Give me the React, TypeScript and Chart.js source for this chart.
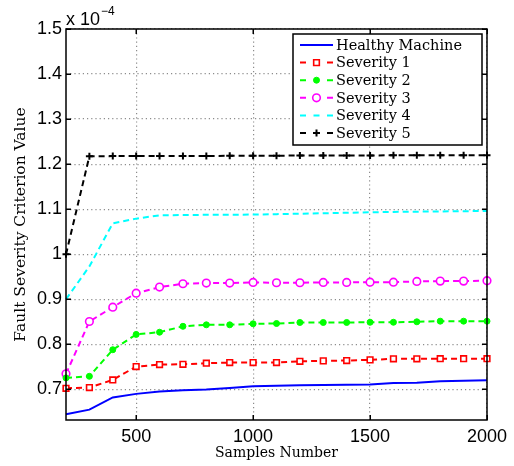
import React, { useEffect, useRef } from 'react';
import { Chart, registerables } from 'chart.js';

Chart.register(...registerables);

const samples = [200, 300, 400, 500, 600, 700, 800, 900, 1000, 1100, 1200, 1300, 1400, 1500, 1600, 1700, 1800, 1900, 2000];
const healthy = [0.645, 0.655, 0.682, 0.69, 0.695, 0.698, 0.6995, 0.703, 0.707, 0.708, 0.709, 0.7095, 0.71, 0.711, 0.714, 0.7145, 0.718, 0.719, 0.72];
const severity1 = [0.7024, 0.704, 0.721, 0.7506, 0.755, 0.7557, 0.758, 0.7595, 0.7595, 0.7595, 0.7624, 0.7633, 0.764, 0.7655, 0.7678, 0.7678, 0.768, 0.768, 0.768];
const severity2 = [0.7255, 0.729, 0.788, 0.822, 0.8269, 0.84, 0.8433, 0.8433, 0.8456, 0.8462, 0.8485, 0.8485, 0.8485, 0.849, 0.849, 0.85, 0.8514, 0.8514, 0.8514];
const severity3 = [0.7344, 0.8507, 0.8825, 0.9136, 0.927, 0.9345, 0.9359, 0.936, 0.9374, 0.9367, 0.9367, 0.9374, 0.9374, 0.938, 0.938, 0.9396, 0.9403, 0.9403, 0.9412];
const severity4 = [0.9, 0.973, 1.0686, 1.079, 1.0864, 1.087, 1.0875, 1.0878, 1.088, 1.089, 1.09, 1.091, 1.092, 1.093, 1.094, 1.0945, 1.095, 1.0955, 1.096];
const severity5 = [1.0, 1.2176, 1.2178, 1.218, 1.218, 1.218, 1.2182, 1.2184, 1.2186, 1.2188, 1.219, 1.219, 1.2192, 1.2194, 1.2195, 1.2196, 1.2197, 1.2198, 1.2198];

const seriesLabels = ['Healthy Machine', 'Severity 1', 'Severity 2', 'Severity 3', 'Severity 4', 'Severity 5'];
const yTicks = [0.7, 0.8, 0.9, 1, 1.1, 1.2, 1.3, 1.4, 1.5];
const xTicks = [500, 1000, 1500, 2000];
const xTitle = 'Samples Number';
const yTitle = 'Fault Severity Criterion Value';
const exponentBase = 'x 10';
const exponentPower = '\u22124';

const SANS = '"Liberation Sans", Arial, sans-serif';
const SERIF = '"DejaVu Serif", serif';

function drawMarker(ctx: CanvasRenderingContext2D, ds: any, x: number, y: number) {
  const style = ds.pointStyle;
  const r = ds.pointRadius;
  if (!r) return;
  ctx.save();
  ctx.lineWidth = ds.pointBorderWidth || 1;
  ctx.strokeStyle = ds.pointBorderColor;
  ctx.fillStyle = ds.pointBackgroundColor;
  ctx.setLineDash([]);
  ctx.beginPath();
  if (style === 'rect') {
    const s = Math.SQRT1_2 * r;
    ctx.rect(x - s, y - s, 2 * s, 2 * s);
    ctx.fill();
    ctx.stroke();
  } else if (style === 'circle') {
    ctx.arc(x, y, r, 0, Math.PI * 2);
    ctx.fill();
    ctx.stroke();
  } else if (style === 'cross') {
    ctx.moveTo(x - r, y);
    ctx.lineTo(x + r, y);
    ctx.moveTo(x, y - r);
    ctx.lineTo(x, y + r);
    ctx.stroke();
  }
  ctx.restore();
}

const framePlugin = {
  id: 'frame',
  afterDatasetsDraw(chart: any) {
    const ctx = chart.ctx;
    const a = chart.chartArea;
    ctx.save();
    ctx.strokeStyle = '#000';
    ctx.lineWidth = 1.5;
    ctx.setLineDash([]);
    ctx.strokeRect(a.left, a.top, a.right - a.left, a.bottom - a.top);
    ctx.fillStyle = '#000';
    chart.scales.y.ticks.forEach((t: any) => {
      const y = Math.round(chart.scales.y.getPixelForValue(t.value));
      ctx.fillRect(a.left, y - 0.5, 5, 1.5);
      ctx.fillRect(a.right - 5, y - 0.5, 5, 1.5);
    });
    chart.scales.x.ticks.forEach((t: any) => {
      const x = Math.round(chart.scales.x.getPixelForValue(t.value));
      ctx.fillRect(x - 0.5, a.bottom - 5, 1.5, 5);
      ctx.fillRect(x - 0.5, a.top, 1.5, 5);
    });
    ctx.textBaseline = 'alphabetic';
    ctx.textAlign = 'left';
    ctx.font = `18px ${SANS}`;
    ctx.fillText(exponentBase, a.left, a.top - 4);
    const w = ctx.measureText(exponentBase).width;
    ctx.font = `12px ${SANS}`;
    ctx.fillText(exponentPower, a.left + w + 1, a.top - 14);
    ctx.restore();
  },
  afterDraw(chart: any) {
    const { ctx } = chart;
    const bx = 293, by = 34, bw = 189, bh = 111;
    ctx.save();
    ctx.fillStyle = '#fff';
    ctx.fillRect(bx, by, bw, bh);
    ctx.strokeStyle = '#000';
    ctx.lineWidth = 1.5;
    ctx.strokeRect(bx, by, bw, bh);
    chart.data.datasets.forEach((ds: any, i: number) => {
      const y = by + 11 + i * 17.6;
      ctx.save();
      ctx.strokeStyle = ds.borderColor;
      ctx.lineWidth = ds.borderWidth;
      ctx.setLineDash([]);
      ctx.beginPath();
      if (ds.borderDash && ds.borderDash.length) {
        ctx.moveTo(300, y); ctx.lineTo(306, y);
        ctx.moveTo(327, y); ctx.lineTo(333, y);
        if (!ds.pointRadius) { ctx.moveTo(313.5, y); ctx.lineTo(319.5, y); }
      } else {
        ctx.moveTo(300, y); ctx.lineTo(333, y);
      }
      ctx.stroke();
      ctx.restore();
      drawMarker(ctx, ds, 316.5, y);
      ctx.fillStyle = '#000';
      ctx.font = `14.5px ${SERIF}`;
      ctx.textBaseline = 'middle';
      ctx.textAlign = 'left';
      ctx.fillText(ds.label, 336, y + 1);
    });
    ctx.restore();
  },
};

export default function App() {
  const ref = useRef<HTMLCanvasElement>(null);
  useEffect(() => {
    if (!ref.current) return;
    const pts = (vals: number[]) => samples.map((s, i) => ({ x: s, y: vals[i] }));
    const dash = [6, 4];
    const chart = new Chart(ref.current, {
      type: 'line',
      data: {
        datasets: [
          { label: seriesLabels[0], data: pts(healthy), borderColor: '#0000ff', borderWidth: 2, pointRadius: 0, pointStyle: false as any },
          { label: seriesLabels[1], data: pts(severity1), borderColor: '#ff0000', borderWidth: 2, borderDash: dash, pointStyle: 'rect', pointRadius: 4, pointBorderWidth: 1.6, pointBorderColor: '#ff0000', pointBackgroundColor: '#ffffff' },
          { label: seriesLabels[2], data: pts(severity2), borderColor: '#00ff00', borderWidth: 2, borderDash: dash, pointStyle: 'circle', pointRadius: 3, pointBorderWidth: 1, pointBorderColor: '#00ff00', pointBackgroundColor: '#00ff00' },
          { label: seriesLabels[3], data: pts(severity3), borderColor: '#ff00ff', borderWidth: 2, borderDash: dash, pointStyle: 'circle', pointRadius: 3.8, pointBorderWidth: 1.6, pointBorderColor: '#ff00ff', pointBackgroundColor: '#ffffff' },
          { label: seriesLabels[4], data: pts(severity4), borderColor: '#00ffff', borderWidth: 2, borderDash: dash, pointRadius: 0, pointStyle: false as any },
          { label: seriesLabels[5], data: pts(severity5), borderColor: '#000000', borderWidth: 2, borderDash: dash, pointStyle: 'cross', pointRadius: 3.5, pointBorderWidth: 2, pointBorderColor: '#000000', pointBackgroundColor: '#000000' },
        ] as any,
      },
      options: {
        animation: false,
        responsive: false,
        devicePixelRatio: 1,
        layout: { padding: { top: 29, right: 27, left: 0, bottom: 0 } },
        elements: { line: { tension: 0 } },
        datasets: { line: { clip: false as any } } as any,
        plugins: { legend: { display: false }, tooltip: { enabled: false } },
        scales: {
          x: {
            type: 'linear',
            min: 200,
            max: 2000,
            afterBuildTicks: (s: any) => { s.ticks = xTicks.map((v) => ({ value: v })); },
            afterFit: (s: any) => { s.height = 46; },
            grid: { display: true, drawTicks: false, color: '#8c8c8c', lineWidth: 1.2 },
            border: { display: false, dash: [1.2, 3] },
            ticks: { color: '#000', font: { family: SANS, size: 18 }, padding: 6, maxRotation: 0, callback: (v: any) => String(v) },
            title: { display: true, text: xTitle, color: '#000', font: { family: SERIF, size: 14 }, padding: { top: 0, bottom: 4 } },
          },
          y: {
            type: 'linear',
            min: 0.632,
            max: 1.5,
            afterBuildTicks: (s: any) => { s.ticks = yTicks.map((v) => ({ value: v })); },
            afterFit: (s: any) => { s.width = 66; },
            grid: { display: true, drawTicks: false, color: '#8c8c8c', lineWidth: 1.2 },
            border: { display: false, dash: [1.2, 3] },
            ticks: { color: '#000', font: { family: SANS, size: 18 }, padding: 4, callback: (v: any) => String(Math.round(v * 10) / 10) },
            title: { display: true, text: yTitle, color: '#000', font: { family: SERIF, size: 15.5 }, padding: { top: 12, bottom: 0 } },
          },
        },
      },
      plugins: [framePlugin],
    });
    return () => chart.destroy();
  }, []);
  return (
    <div style={{ position: 'fixed', left: 0, top: 0, width: 514, height: 466, background: '#fff' }}>
      <canvas ref={ref} width={514} height={466} />
    </div>
  );
}
